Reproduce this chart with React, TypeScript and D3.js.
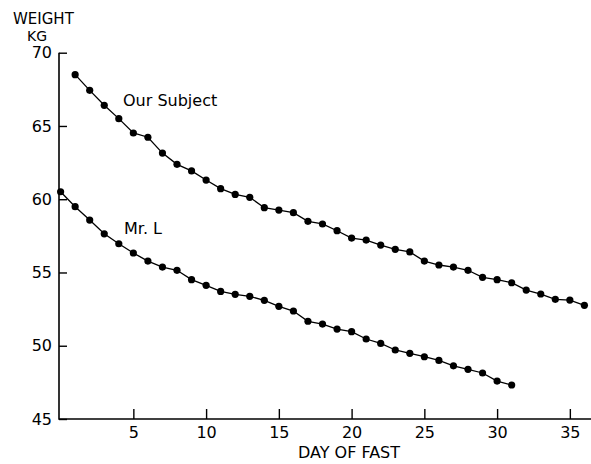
import React, { useRef, useEffect } from 'react';
import * as d3 from 'd3';

// weights (kg), one per day of fast
const subjectDays = [1, 2, 3, 4, 5, 6, 7, 8, 9, 10, 11, 12, 13, 14, 15, 16, 17, 18, 19, 20, 21, 22, 23, 24, 25, 26, 27, 28, 29, 30, 31, 32, 33, 34, 35, 36];
const subjectWeights = [68.5, 67.43, 66.41, 65.5, 64.52, 64.23, 63.15, 62.38, 61.93, 61.31, 60.72, 60.33, 60.13, 59.42, 59.26, 59.08, 58.49, 58.31, 57.85, 57.35, 57.21, 56.87, 56.58, 56.4, 55.78, 55.51, 55.37, 55.15, 54.67, 54.51, 54.3, 53.8, 53.53, 53.17, 53.12, 52.76];

const mrLDays = [0, 1, 2, 3, 4, 5, 6, 7, 8, 9, 10, 11, 12, 13, 14, 15, 16, 17, 18, 19, 20, 21, 22, 23, 24, 25, 26, 27, 28, 29, 30, 31];
const mrLWeights = [60.51, 59.49, 58.58, 57.64, 56.96, 56.33, 55.78, 55.37, 55.15, 54.51, 54.12, 53.71, 53.51, 53.37, 53.1, 52.69, 52.37, 51.67, 51.48, 51.14, 50.96, 50.46, 50.16, 49.71, 49.48, 49.25, 49.0, 48.63, 48.39, 48.14, 47.59, 47.32];

const xTicks = [5, 10, 15, 20, 25, 30, 35];
const yTicks = [45, 50, 55, 60, 65, 70];

const W = 591;
const H = 464;
const FONT = 'DejaVu Sans, sans-serif';

const App = () => {
    const ref = useRef<SVGSVGElement>(null);

    useEffect(() => {
        const svg = d3.select(ref.current);
        svg.selectAll('*').remove();

        const x = d3.scaleLinear().domain([0, 36]).range([60.6, 584.4]);
        const y = d3.scaleLinear().domain([45, 70]).range([419, 52.7]);

        // axis lines
        svg.append('line').attr('x1', 59).attr('x2', 59).attr('y1', y(70)).attr('y2', y(45) + 0.7)
            .attr('stroke', '#000').attr('stroke-width', 1.6);
        svg.append('line').attr('x1', 59).attr('x2', W).attr('y1', y(45)).attr('y2', y(45))
            .attr('stroke', '#000').attr('stroke-width', 1.6);

        const yAxis = svg.append('g').attr('transform', 'translate(59,0)')
            .call(d3.axisLeft(y).tickValues(yTicks).tickSizeInner(-8).tickSizeOuter(0).tickPadding(7).tickFormat(d3.format('d')));
        yAxis.select('.domain').remove();
        yAxis.selectAll('line').attr('stroke-width', 1.4);
        yAxis.selectAll('text').attr('font-family', FONT).attr('font-size', 16).attr('fill', '#000');

        const xAxis = svg.append('g').attr('transform', `translate(0,${y(45)})`)
            .call(d3.axisBottom(x).tickValues(xTicks).tickSizeInner(-10).tickSizeOuter(0).tickPadding(8).tickFormat(d3.format('d')));
        xAxis.select('.domain').remove();
        xAxis.selectAll('line').attr('stroke-width', 1.4);
        xAxis.selectAll('text').attr('font-family', FONT).attr('font-size', 16).attr('fill', '#000');

        // axis titles
        svg.append('text').attr('x', 13).attr('y', 24).text('WEIGHT')
            .attr('font-family', FONT).attr('font-size', 15);
        svg.append('text').attr('x', 27).attr('y', 40.5).text('KG')
            .attr('font-family', FONT).attr('font-size', 14);
        svg.append('text').attr('x', 349).attr('y', 458).attr('text-anchor', 'middle').text('DAY OF FAST')
            .attr('font-family', FONT).attr('font-size', 16);

        const line = d3.line<[number, number]>().x((d) => x(d[0])).y((d) => y(d[1]));

        const series = [
            { name: 'Our Subject', pts: subjectDays.map((d, i) => [d, subjectWeights[i]] as [number, number]), lx: 123, ly: 106 },
            { name: 'Mr. L', pts: mrLDays.map((d, i) => [d, mrLWeights[i]] as [number, number]), lx: 124, ly: 234 },
        ];

        series.forEach((s) => {
            svg.append('path').datum(s.pts).attr('d', line).attr('fill', 'none')
                .attr('stroke', '#000').attr('stroke-width', 1.3);
            svg.append('g').selectAll('circle').data(s.pts).join('circle')
                .attr('cx', (d) => x(d[0])).attr('cy', (d) => y(d[1])).attr('r', 3.6).attr('fill', '#000');
            svg.append('text').attr('x', s.lx).attr('y', s.ly).text(s.name)
                .attr('font-family', FONT).attr('font-size', 16);
        });
    }, []);

    return (
        <svg ref={ref} width={W} height={H}
            style={{ position: 'absolute', top: 0, left: 0, background: '#fff' }} />
    );
};

export default App;
